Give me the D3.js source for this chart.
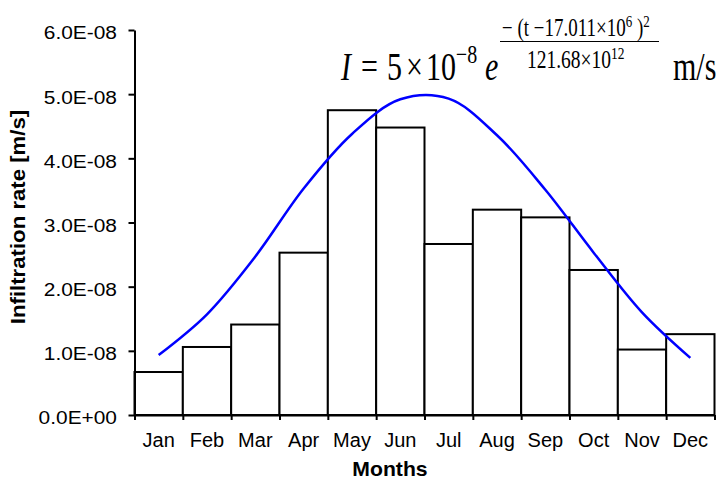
<!DOCTYPE html>
<html>
<head>
<meta charset="utf-8">
<script src="https://cdn.jsdelivr.net/npm/d3@7"></script>
<style>
  html, body { margin: 0; padding: 0; background: #ffffff; }
  svg { display: block; }
</style>
</head>
<body>
<svg id="chart" width="722" height="481"></svg>
<script>
// ---- data ----
const months = ["Jan", "Feb", "Mar", "Apr", "May", "Jun", "Jul", "Aug", "Sep", "Oct", "Nov", "Dec"];
const measuredRate = [6.7e-9, 1.06e-8, 1.41e-8, 2.53e-8, 4.75e-8, 4.48e-8, 2.665e-8, 3.2e-8, 3.08e-8, 2.26e-8, 1.02e-8, 1.26e-8];
const fittedRate = [0.935e-8, 1.57e-8, 2.47e-8, 3.53e-8, 4.38e-8, 4.92e-8, 4.93e-8, 4.36e-8, 3.51e-8, 2.53e-8, 1.6e-8, 0.89e-8];
const yTicks = [0, 1e-8, 2e-8, 3e-8, 4e-8, 5e-8, 6e-8];
const yTickLabels = ["0.0E+00", "1.0E-08", "2.0E-08", "3.0E-08", "4.0E-08", "5.0E-08", "6.0E-08"];
const xTitle = "Months";
const yTitle = "Infiltration rate [m/s]";

// ---- layout ----
const svg = d3.select("#chart");
const plotLeft = 134.5, plotRight = 714.5, plotTop = 30, plotBottom = 415;

const x = d3.scaleBand().domain(months).range([plotLeft, plotRight]).paddingInner(0).paddingOuter(0);
const y = d3.scaleLinear().domain([0, 6e-8]).range([plotBottom, plotTop]);

svg.append("rect").attr("width", 722).attr("height", 481).attr("fill", "#fff");

// bars
svg.append("g").selectAll("rect").data(months).join("rect")
  .attr("x", d => x(d))
  .attr("y", (d, i) => y(measuredRate[i]))
  .attr("width", x.bandwidth())
  .attr("height", (d, i) => y(0) - y(measuredRate[i]))
  .attr("fill", "#fff")
  .attr("stroke", "#000")
  .attr("stroke-width", 2);

// fitted curve
const line = d3.line()
  .x((d, i) => x(months[i]) + x.bandwidth() / 2)
  .y(d => y(d))
  .curve(d3.curveCatmullRom.alpha(0.5));
svg.append("path").datum(fittedRate)
  .attr("d", line)
  .attr("fill", "none")
  .attr("stroke", "#0000ff")
  .attr("stroke-width", 2.5);

// y axis
const yAxis = svg.append("g").attr("transform", `translate(${plotLeft},0)`)
  .call(d3.axisLeft(y).tickValues(yTicks).tickFormat((d, i) => yTickLabels[i]).tickSize(6).tickPadding(9.5).tickSizeOuter(0));
yAxis.select(".domain").attr("stroke", "#000").attr("stroke-width", 2);
yAxis.selectAll(".tick line").attr("stroke", "#000").attr("stroke-width", 2);
yAxis.selectAll("text")
  .attr("font-family", "Liberation Sans, Arial, sans-serif")
  .attr("font-size", 18.5).attr("fill", "#000")
  .attr("dy", "0.48em")
  .attr("transform", "scale(1.13,1)");

// x axis: boundary ticks
const xEdge = d3.scaleLinear().domain([0, months.length]).range([plotLeft, plotRight]);
const xAxisTicks = svg.append("g").attr("transform", `translate(0,${plotBottom})`)
  .call(d3.axisBottom(xEdge).tickValues(d3.range(0, months.length + 1)).tickSize(5).tickFormat("").tickSizeOuter(0));
xAxisTicks.select(".domain").attr("stroke", "#000").attr("stroke-width", 2);
xAxisTicks.selectAll(".tick line").attr("stroke", "#000").attr("stroke-width", 2);

// x axis: labels
const xAxisLabels = svg.append("g").attr("transform", `translate(0,${plotBottom})`)
  .call(d3.axisBottom(x).tickSize(0).tickPadding(18));
xAxisLabels.select(".domain").remove();
xAxisLabels.selectAll("text").attr("font-family", "Liberation Sans, Arial, sans-serif").attr("font-size", 20).attr("fill", "#000");

// axis titles
svg.append("text").text(xTitle)
  .attr("transform", "translate(390,476) scale(1.06,1)")
  .attr("text-anchor", "middle")
  .attr("font-family", "Liberation Sans, Arial, sans-serif")
  .attr("font-weight", "bold").attr("font-size", 20);

svg.append("text").text(yTitle)
  .attr("transform", "translate(25,217) rotate(-90) scale(1.11,1)")
  .attr("text-anchor", "middle")
  .attr("font-family", "Liberation Sans, Arial, sans-serif")
  .attr("font-weight", "bold").attr("font-size", 20);

// equation
const eq = svg.append("g").attr("font-family", "Liberation Serif, Times New Roman, serif").attr("fill", "#000");
function piece(txt, px, py, size, italic) {
  return eq.append("text").text(txt)
    .attr("transform", `translate(${px},${py}) scale(1,1.3)`)
    .attr("font-size", size)
    .attr("font-style", italic ? "italic" : "normal");
}
piece("I", 341, 80, 30, true);
piece("=", 361, 80, 30, false);
piece("5", 387, 80, 30, false);
piece("×", 406, 80, 30, false);
piece("10", 426, 80, 30, false);
piece("−8", 456, 63, 20, false);
piece("e", 485, 80, 30, true);
// numerator
const num = piece("", 502, 36, 19, false);
num.append("tspan").text("− (t −17.011×10");
num.append("tspan").text("6").attr("font-size", 13).attr("dy", -7);
num.append("tspan").text(" )").attr("dy", 7);
num.append("tspan").text("2").attr("font-size", 13).attr("dy", -7);
eq.append("line").attr("x1", 500).attr("x2", 659).attr("y1", 41.5).attr("y2", 41.5).attr("stroke", "#000").attr("stroke-width", 1);
// denominator
const den = piece("", 527, 68, 19.5, false);
den.append("tspan").text("121.68×10");
den.append("tspan").text("12").attr("font-size", 13.5).attr("dy", -7);
piece("m/s", 673, 80, 30, false);
</script>
</body>
</html>
